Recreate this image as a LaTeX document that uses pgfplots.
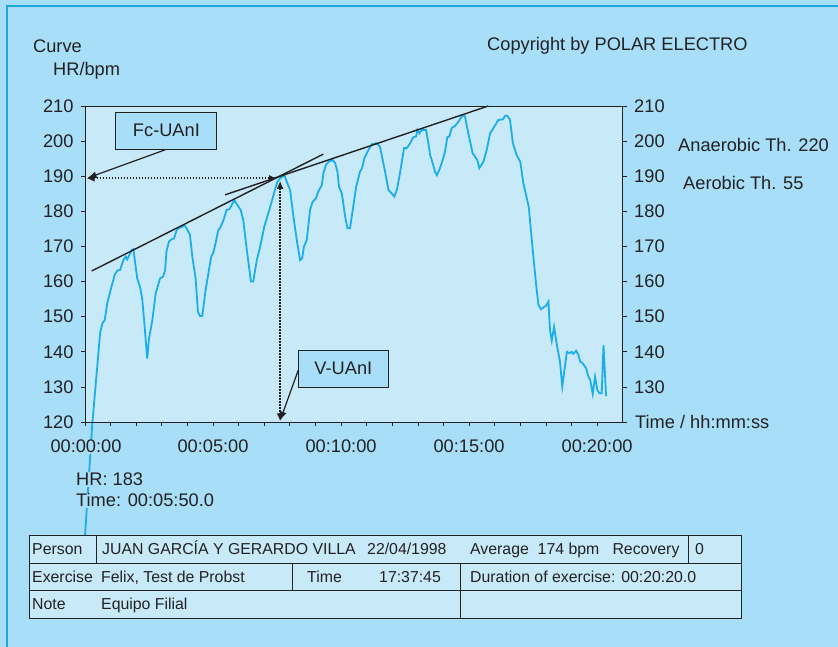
\documentclass[border=0pt]{standalone}
\usepackage{pgfplots}
\pgfplotsset{compat=1.18}
\usepackage{fontspec}
\setmainfont{Liberation Sans}
\usetikzlibrary{arrows.meta}
\definecolor{bgout}{HTML}{A8DEF7}
\definecolor{plotbg}{HTML}{C7E9F8}
\definecolor{hr}{HTML}{1AAEEA}
\definecolor{frame}{HTML}{1FA8E0}
\definecolor{ink}{HTML}{222222}
\newcommand{\bigfnt}{\fontsize{18.3}{21}\selectfont}
\newcommand{\tabfnt}{\fontsize{15.9}{18}\selectfont}
\begin{document}
\begin{tikzpicture}
\begin{scope}[x=1bp,y=1bp]
\fill[bgout] (0,0) rectangle (838,647);
\useasboundingbox (0,0) rectangle (838,647);
\draw[frame, line width=2bp] (7,0) -- (7,641) -- (838,641);
\end{scope}

\begin{axis}[
  at={(85bp,225bp)}, anchor=south west,
  scale only axis, width=537.7bp, height=316bp,
  xmin=0, xmax=21, ymin=120, ymax=210,
  clip=false, axis on top,
  axis background/.style={fill=plotbg},
  axis line style={ink, line width=0.9bp},
  xtick={0,5,10,15,20},
  xticklabels={{},00:05:00,00:10:00,00:15:00,00:20:00},
  minor x tick num=4,
  ytick={120,130,...,210},
  ytick pos=left, xtick pos=bottom,
  tick align=outside,
  major tick length=4bp, minor tick length=4bp,
  tick style={ink, line width=0.7bp},
  ticklabel style={font=\bigfnt, text=ink},
  /pgf/number format/assume math mode=true,
  xticklabel style={fill=bgout, inner sep=1bp, yshift=-13bp},
  yticklabel style={xshift=-4bp},
]
\addplot[hr, line width=1.8bp] coordinates {
(0.00,87.5) (0.28,119) (0.59,145.3) (0.68,148.1) (0.77,149) (0.87,153.8)
(1.00,157.6) (1.16,161.9) (1.26,163.1) (1.37,163.3) (1.50,166.1) (1.59,167.1)
(1.65,166.3) (1.76,168) (1.82,169) (1.89,169.2) (1.98,164.2) (2.04,160.9)
(2.15,158.5) (2.24,154.7) (2.33,147.1) (2.43,138.1) (2.50,143.8) (2.63,149)
(2.76,156.6) (2.93,160.9) (3.05,161.4) (3.13,163.3) (3.18,168.5) (3.28,171.4)
(3.37,172) (3.48,172.3) (3.58,174.7) (3.67,175.2) (3.80,175.6) (3.89,176.1)
(4.00,174.7) (4.10,173.3) (4.19,167.1) (4.32,160.9) (4.41,151.4) (4.49,150.2)
(4.58,150.2) (4.71,157.6) (4.84,163.3) (4.93,167.1) (5.01,168.2) (5.10,170.9)
(5.20,174.5) (5.27,175.2) (5.40,177.3) (5.53,180.4) (5.64,180.6) (5.73,181.8)
(5.83,183.2) (5.95,181.8) (6.08,180.4) (6.18,177.5) (6.32,169) (6.48,160)
(6.57,160) (6.71,166.1) (6.84,169.9) (7.00,175.6) (7.20,180.4) (7.38,185.1)
(7.51,188.4) (7.62,189.4) (7.72,189.9) (7.79,190.3) (7.88,188.4) (8.01,186.1)
(8.14,178.5) (8.29,170.9) (8.40,166.1) (8.48,166.6) (8.55,169.9) (8.66,171.8)
(8.79,180.4) (8.89,182.7) (9.02,183.7) (9.11,185.6) (9.25,187.5) (9.31,190.8)
(9.41,193.2) (9.51,194.1) (9.68,194.6) (9.77,193.7) (9.86,191.3) (9.92,187)
(10.03,185.1) (10.16,178.5) (10.25,175.2) (10.35,175.2) (10.48,181.5) (10.59,187)
(10.74,191.3) (10.82,192.3) (10.91,195.1) (11.07,197.5) (11.20,199.1) (11.39,199.4)
(11.52,198.4) (11.72,191.3) (11.85,186.1) (11.98,185.1) (12.08,184.2) (12.18,186.1)
(12.30,190.8) (12.46,198) (12.57,198) (12.70,199.4) (12.82,201.1) (12.93,201.3)
(12.98,203.2) (13.06,202.2) (13.15,203.2) (13.32,203.2) (13.41,199.4) (13.48,196)
(13.58,193.7) (13.67,191.3) (13.74,190.3) (13.84,191.8) (13.97,194.6) (14.06,197)
(14.15,201.1) (14.23,201.3) (14.32,203.7) (14.45,204.3) (14.58,205.5) (14.75,207.4)
(14.84,207) (14.97,202.2) (15.14,196.5) (15.23,195.6) (15.32,194.6) (15.40,192.3)
(15.56,194.1) (15.69,197.5) (15.82,202.2) (15.95,203.7) (16.14,206) (16.32,206.2)
(16.41,207.2) (16.50,207.2) (16.60,206) (16.71,199.4) (16.86,196) (17.00,194.1)
(17.12,188) (17.33,181.3) (17.51,167.1) (17.64,157.6) (17.71,153.3) (17.81,152.1)
(17.93,152.8) (18.00,153) (18.10,154.3) (18.16,146.2) (18.23,143.2) (18.32,147.1)
(18.43,141.9) (18.55,137.2) (18.64,130.1) (18.82,140) (18.92,139.6) (19.01,140)
(19.07,139.4) (19.18,140.3) (19.27,139.1) (19.34,137.2) (19.44,136.7) (19.57,135.3)
(19.66,132.9) (19.73,132) (19.83,128) (19.92,132.9) (20.01,129.1) (20.09,128.2)
(20.18,128.2) (20.25,141.9) (20.35,127.4)
};
% tangent lines
\addplot[ink, line width=1.4bp] coordinates {(0.26,163) (9.31,196.3)};
\addplot[ink, line width=1.4bp] coordinates {(5.47,184.7) (15.75,210)};
% dotted arrows
\draw[ink, dash pattern=on 1.6bp off 1.4bp, line width=2bp, {Latex[length=8bp,width=7bp]}-{Latex[length=8bp,width=7bp]}]
  (axis cs:0.06,189.4) -- (axis cs:7.5,189.4);
\draw[ink, dash pattern=on 1.6bp off 1.4bp, line width=2bp, {Latex[length=8bp,width=7bp]}-{Latex[length=8bp,width=7bp]}]
  (axis cs:7.62,188.7) -- (axis cs:7.62,120.2);
% annotation boxes
\draw[ink, line width=1.2bp, -{Latex[length=9bp,width=7bp]}] (axis cs:3.16,197.6) -- (axis cs:0.1,189.5);
\node[draw=ink, fill=bgout, line width=1.1bp, minimum width=101bp, minimum height=37bp, inner sep=0pt, font=\bigfnt, text=ink]
  at (axis cs:3.18,202.95) {Fc-UAnI};
\draw[ink, line width=1.2bp, -{Latex[length=9bp,width=7bp]}] (axis cs:8.33,134.8) -- (axis cs:7.62,120.4);
\node[draw=ink, fill=bgout, line width=1.1bp, minimum width=90bp, minimum height=37bp, inner sep=0pt, font=\bigfnt, text=ink]
  at (axis cs:10.09,135.2) {V-UAnI};
\end{axis}

\begin{axis}[
  at={(85bp,225bp)}, anchor=south west,
  scale only axis, width=537.7bp, height=316bp,
  xmin=0, xmax=21, ymin=120, ymax=210,
  axis y line*=right, hide x axis,
  axis line style={ink, line width=0.9bp},
  ytick={120,130,...,210},
  yticklabels={,130,140,150,160,170,180,190,200,210},
  tick align=outside,
  major tick length=4bp,
  tick style={ink, line width=0.7bp},
  ticklabel style={font=\bigfnt, text=ink},
  /pgf/number format/assume math mode=true,
  yticklabel style={xshift=4bp},
]
\addplot[draw=none] coordinates {(0,120) (21,210)};
\end{axis}

\begin{scope}[x=1bp,y=1bp]
\begin{scope}[every node/.style={text=ink, inner sep=0pt}]
\node[font=\bigfnt, fill=bgout, inner sep=1bp] at (86,200.5) {00:00:00};
\node[anchor=base west, font=\bigfnt] at (33,594) {Curve};
\node[anchor=base west, font=\bigfnt] at (53,571) {HR/bpm};
\node[anchor=base west, font=\bigfnt] at (487,596) {Copyright by POLAR ELECTRO};
\node[anchor=base west, font=\bigfnt] at (678,495) {Anaerobic Th. 220};
\node[anchor=base west, font=\bigfnt] at (683,457) {Aerobic Th. 55};
\node[anchor=base west, font=\bigfnt] at (635,218) {Time / hh:mm:ss};
\node[anchor=base west, font=\bigfnt, fill=bgout, inner sep=1bp] at (75,161) {HR: 183};
\node[anchor=base west, font=\bigfnt, fill=bgout, inner sep=1bp] at (75,140) {Time: 00:05:50.0};
\end{scope}

% table
\filldraw[fill=plotbg, draw=ink, line width=1bp] (29,28.7) rectangle (741,111);
\draw[ink, line width=1bp] (29,83.7) -- (741,83.7) (29,56.3) -- (741,56.3)
  (96.7,111) -- (96.7,83.7) (688.3,111) -- (688.3,83.7)
  (292,83.7) -- (292,56.3) (460.7,83.7) -- (460.7,28.7);
\begin{scope}[every node/.style={text=ink, inner sep=0pt, anchor=base west, font=\tabfnt}]
\node at (32,92.5) {Person};
\node at (102,92.5) {JUAN GARCÍA Y GERARDO VILLA};
\node at (367,92.5) {22/04/1998};
\node at (470,92.5) {Average\ \ 174 bpm\ \ \ Recovery};
\node at (695,92.5) {0};
\node at (32,64.7) {Exercise};
\node at (101,64.7) {Felix, Test de Probst};
\node at (307,64.7) {Time};
\node at (379,64.7) {17:37:45};
\node at (470,64.7) {Duration of exercise: 00:20:20.0};
\node at (32,37.7) {Note};
\node at (101,37.7) {Equipo Filial};
\end{scope}
\end{scope}
\end{tikzpicture}
\end{document}
